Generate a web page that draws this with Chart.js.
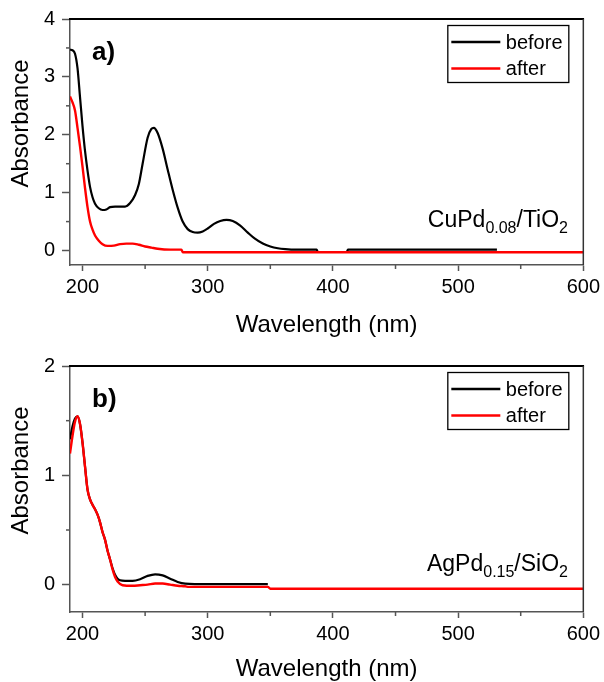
<!DOCTYPE html>
<html><head><meta charset="utf-8">
<script src="https://cdn.jsdelivr.net/npm/chart.js@4"></script>
<style>
html,body{margin:0;padding:0;background:#fff;}
#wrap{position:relative;width:604px;height:682px;overflow:hidden;}
canvas{position:absolute;left:0;}
</style></head><body>
<div id="wrap">
<canvas id="cA" width="604" height="340" style="top:0;width:604px;height:340px"></canvas>
<canvas id="cB" width="604" height="342" style="top:340px;width:604px;height:342px"></canvas>
</div>
<script>
// ---------- data ----------
const seriesNames = ['before', 'after'];
const seriesColors = ['#000000', '#ff0000'];
const xTitle = 'Wavelength (nm)';
const yTitle = 'Absorbance';
const xTicks = [200, 300, 400, 500, 600];
const xMinor = [250, 350, 450, 550];
const yTicksA = [0, 1, 2, 3, 4];
const yMinorA = [0.5, 1.5, 2.5, 3.5];
const yTicksB = [0, 1, 2];
const yMinorB = [0.5, 1.5];
const labelA = 'a)';
const labelB = 'b)';
const annA = [['CuPd', false], ['0.08', true], ['/TiO', false], ['2', true]];
const annB = [['AgPd', false], ['0.15', true], ['/SiO', false], ['2', true]];

// panel a) CuPd0.08/TiO2
const wlA_before = [190,192,194,196,198,200,202,204,206,208,210,213,216,219,222,226,230,234,238,242,245,248,252,255,257,260,264,268,272,276,280,284,288,292,296,300,305,310,315,320,326,332,338,344,350,356,362,370,387,388,411,412,531];
const absA_before = [3.47,3.46,3.40,3.15,2.65,2.15,1.72,1.38,1.10,0.92,0.81,0.73,0.70,0.71,0.75,0.76,0.76,0.76,0.82,0.96,1.15,1.50,1.95,2.10,2.12,2.03,1.76,1.40,1.05,0.74,0.50,0.37,0.32,0.31,0.33,0.38,0.46,0.51,0.53,0.51,0.43,0.31,0.20,0.12,0.07,0.04,0.025,0.015,0.015,-0.025,-0.025,0.015,0.015];
const wlA_after = [190,192,194,196,198,200,202,204,206,208,210,213,216,220,225,230,235,240,245,250,255,260,270,279,280,600];
const absA_after = [2.66,2.56,2.42,2.12,1.80,1.45,1.08,0.75,0.50,0.36,0.26,0.17,0.11,0.08,0.085,0.11,0.12,0.12,0.10,0.07,0.05,0.03,0.015,0.015,-0.03,-0.03];

// panel b) AgPd0.15/SiO2
const wlB_before = [190,192,194,196,198,200,202,204,206,208,210,212,214,216,218,220,222,224,226,228,230,234,240,246,252,258,264,270,276,282,300,348];
const absB_before = [1.33,1.45,1.52,1.54,1.47,1.30,1.08,0.87,0.78,0.73,0.69,0.64,0.57,0.48,0.41,0.31,0.23,0.15,0.09,0.055,0.04,0.035,0.035,0.05,0.08,0.095,0.085,0.055,0.025,0.01,0.005,0.005];
const wlB_after = [190,192,194,196,198,200,202,204,206,208,210,212,214,216,218,220,222,224,226,228,232,240,246,252,258,264,270,276,282,285,348,350,600];
const absB_after = [1.20,1.36,1.49,1.54,1.47,1.30,1.08,0.87,0.78,0.73,0.69,0.64,0.57,0.48,0.41,0.31,0.23,0.14,0.07,0.03,-0.005,-0.01,-0.005,0.0,0.01,0.01,0.0,-0.01,-0.015,-0.02,-0.02,-0.037,-0.037];

// ---------- drawing ----------
const FONT = '"Liberation Sans", Arial, sans-serif';
function pts(xs, ys) { return xs.map((v, i) => ({x: v, y: ys[i]})); }

function makePanel(id, cfg) {
  const deco = {
    id: 'deco',
    afterDraw(chart) {
      const ctx = chart.ctx, a = chart.chartArea, x = chart.scales.x, y = chart.scales.y;
      ctx.save();
      // frame top / right
      ctx.strokeStyle = '#000'; ctx.lineWidth = 2;
      ctx.beginPath(); ctx.moveTo(a.left - 1, a.top); ctx.lineTo(a.right + 0.75, a.top); ctx.stroke();
      ctx.strokeStyle = '#333'; ctx.lineWidth = 1.5;
      ctx.beginPath(); ctx.moveTo(a.right, a.top); ctx.lineTo(a.right, a.bottom); ctx.stroke();
      // minor ticks
      ctx.strokeStyle = '#555'; ctx.lineWidth = 1.5;
      xMinor.forEach(v => { const px = x.getPixelForValue(v); ctx.beginPath(); ctx.moveTo(px, a.bottom); ctx.lineTo(px, a.bottom + 4); ctx.stroke(); });
      cfg.yMinor.forEach(v => { const py = y.getPixelForValue(v); ctx.beginPath(); ctx.moveTo(a.left - 4, py); ctx.lineTo(a.left, py); ctx.stroke(); });
      // axis titles
      ctx.fillStyle = '#000';
      ctx.font = '24px ' + FONT;
      ctx.textAlign = 'center'; ctx.textBaseline = 'middle';
      ctx.fillText(xTitle, (a.left + a.right) / 2, cfg.xTitleY);
      ctx.save();
      ctx.translate(21, (a.top + a.bottom) / 2 - 18.5);
      ctx.rotate(-Math.PI / 2);
      ctx.fillText(yTitle, 0, 0);
      ctx.restore();
      // panel label
      ctx.font = 'bold 26px ' + FONT;
      ctx.textAlign = 'left'; ctx.textBaseline = 'alphabetic';
      ctx.fillText(cfg.label, a.left + 22, a.top + 41);
      // annotation with subscripts
      const mainF = '23px ' + FONT, subF = '16px ' + FONT;
      let w = 0;
      cfg.ann.forEach(([t, s]) => { ctx.font = s ? subF : mainF; w += ctx.measureText(t).width; });
      let cx = cfg.annRight - w;
      cfg.ann.forEach(([t, s]) => {
        ctx.font = s ? subF : mainF;
        ctx.fillText(t, cx, cfg.annBase + (s ? 6 : 0));
        cx += ctx.measureText(t).width;
      });
      // legend
      const lx = a.right - 135.5, ly = a.top + 6.5;
      ctx.strokeStyle = '#000'; ctx.lineWidth = 1.3;
      ctx.strokeRect(lx, ly, 121, 57);
      ctx.font = '20px ' + FONT; ctx.textBaseline = 'middle';
      seriesNames.forEach((n, i) => {
        const yy = ly + 16.5 + i * 26.5;
        ctx.strokeStyle = seriesColors[i]; ctx.lineWidth = 2.6;
        ctx.beginPath(); ctx.moveTo(lx + 3.5, yy); ctx.lineTo(lx + 52.5, yy); ctx.stroke();
        ctx.fillStyle = '#000';
        ctx.fillText(n, lx + 58, yy + 1);
      });
      ctx.restore();
    }
  };
  return new Chart(document.getElementById(id), {
    type: 'line',
    data: {
      datasets: [
        {label: seriesNames[0], data: pts(cfg.wl0, cfg.ab0), borderColor: seriesColors[0], borderWidth: 2.2, pointRadius: 0, cubicInterpolationMode: 'monotone', order: 1},
        {label: seriesNames[1], data: pts(cfg.wl1, cfg.ab1), borderColor: seriesColors[1], borderWidth: 2.4, pointRadius: 0, cubicInterpolationMode: 'monotone', order: 0}
      ]
    },
    options: {
      responsive: false, animation: false, devicePixelRatio: 1,
      layout: {padding: {top: cfg.padTop, right: 20, left: 0, bottom: 0}},
      plugins: {legend: {display: false}, tooltip: {enabled: false}},
      scales: {
        x: {
          type: 'linear', min: 190, max: 600,
          afterBuildTicks: s => { s.ticks = xTicks.map(v => ({value: v})); },
          afterFit: s => { s.height = cfg.xAxisH; },
          grid: {drawOnChartArea: false, drawTicks: true, tickLength: 6, tickColor: '#555', tickWidth: 1.5},
          border: {display: true, color: '#555', width: 1.5},
          ticks: {color: '#000', font: {family: FONT, size: 20}, padding: 4, maxRotation: 0, autoSkip: false, callback: v => String(v)}
        },
        y: {
          type: 'linear', min: -0.25, max: cfg.yMax,
          afterBuildTicks: s => { s.ticks = cfg.yTicks.map(v => ({value: v})); },
          afterFit: s => { s.width = 70; },
          grid: {drawOnChartArea: false, drawTicks: true, tickLength: 8, tickColor: '#555', tickWidth: 1.5},
          border: {display: true, color: '#555', width: 1.5},
          ticks: {color: '#000', font: {family: FONT, size: 20}, padding: 7, autoSkip: false, callback: v => String(v)}
        }
      }
    },
    plugins: [deco]
  });
}

makePanel('cA', {
  wl0: wlA_before, ab0: absA_before, wl1: wlA_after, ab1: absA_after,
  yMax: 4, yTicks: yTicksA, yMinor: yMinorA, padTop: 19, xAxisH: 75,
  xTitleY: 325, label: labelA, ann: annA, annRight: 568, annBase: 227
});
makePanel('cB', {
  wl0: wlB_before, ab0: absB_before, wl1: wlB_after, ab1: absB_after,
  yMax: 2, yTicks: yTicksB, yMinor: yMinorB, padTop: 26, xAxisH: 70,
  xTitleY: 329, label: labelB, ann: annB, annRight: 568, annBase: 231
});
</script>
</body></html>
